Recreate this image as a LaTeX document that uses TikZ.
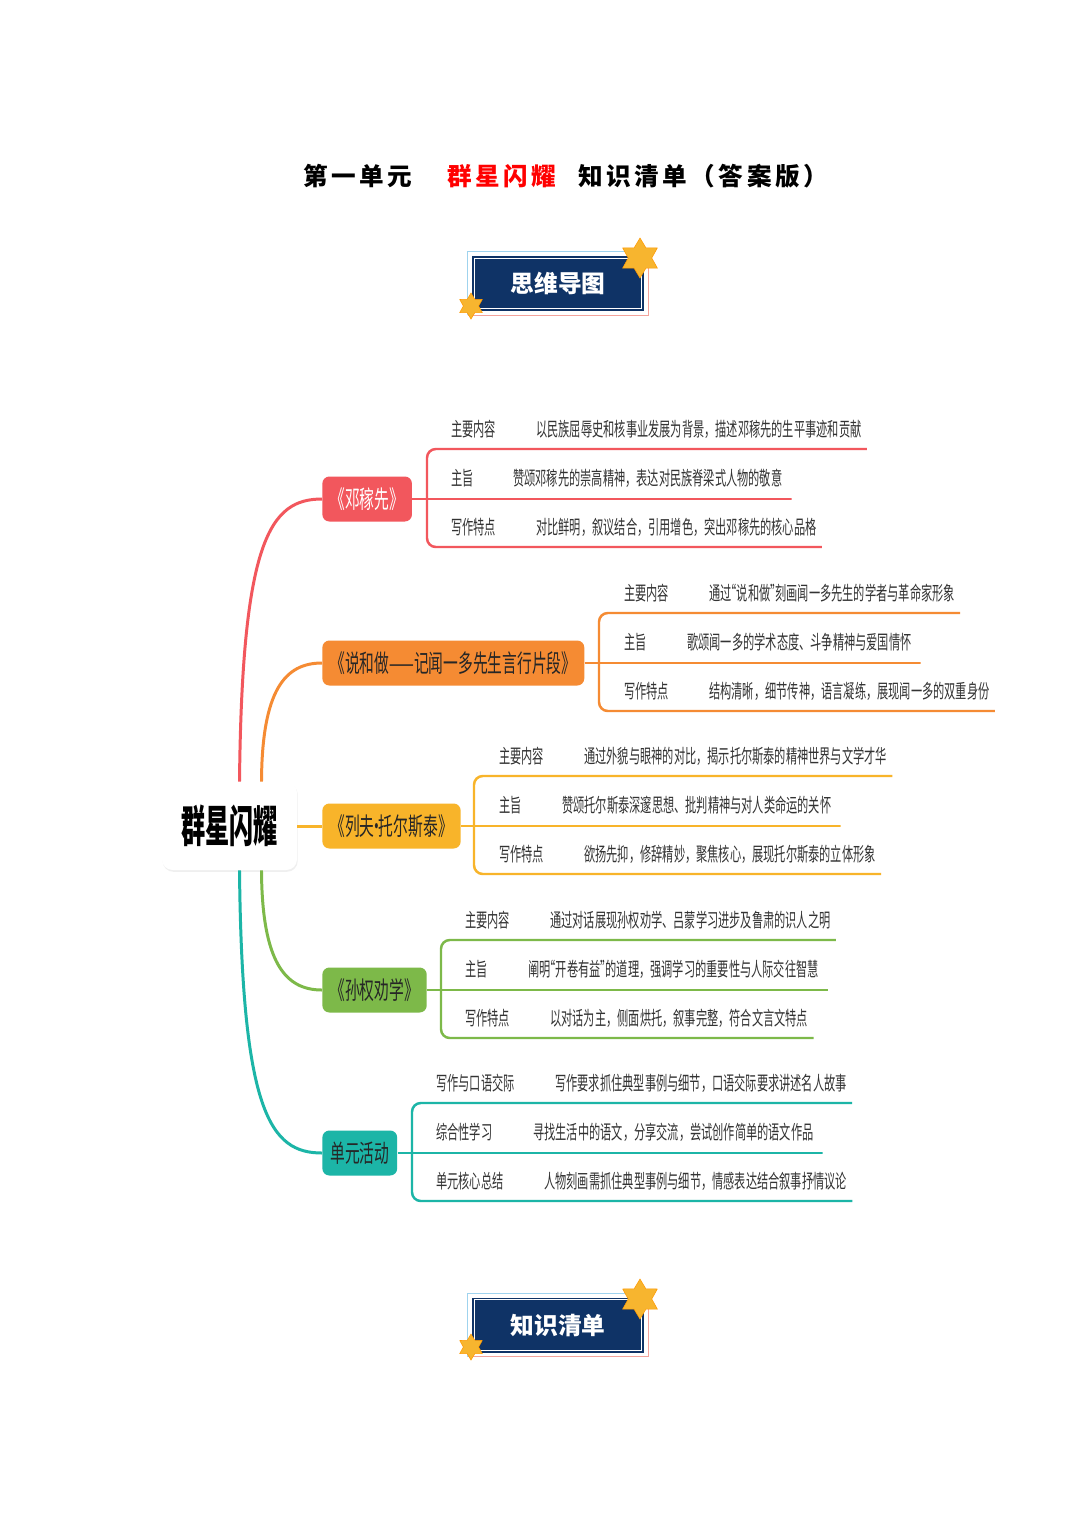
\documentclass[tikz,border=0pt]{standalone}
\usepackage{fontspec}
\usepackage{graphicx}
\setmainfont{Noto Sans CJK SC}
\usetikzlibrary{shapes.geometric,shadows}

\definecolor{cred}{HTML}{F2575D}
\definecolor{corange}{HTML}{F58B33}
\definecolor{cyellow}{HTML}{F8B42A}
\definecolor{cgreen}{HTML}{7DB949}
\definecolor{cteal}{HTML}{1CB5A7}
\definecolor{navy}{HTML}{0F3366}
\definecolor{leafgray}{HTML}{333333}
\definecolor{starfill}{HTML}{F7B52F}
\definecolor{framebl}{HTML}{9FD3EE}
\definecolor{framepk}{HTML}{F3A39B}

\newcommand{\leaftxt}[1]{\scalebox{0.58}[1]{#1}}
\newcommand{\brtxt}[1]{\scalebox{0.6}[1]{#1}}
\newcommand{\tk}{\kern2pt}
\newcommand{\openq}{\makebox[0.45em][r]{“}}
\newcommand{\closeq}{\makebox[0.45em][l]{”}}

\begin{document}
\begin{tikzpicture}[x=0.02cm,y=-0.02cm,
  leaf/.style={anchor=west,inner sep=0pt,text=leafgray,font=\fontsize{11}{12}\selectfont},
  branch/.style={anchor=west,rounded corners=4pt,inner xsep=4.5pt,inner ysep=0pt,minimum height=0.9cm,text=black!85,font=\fontsize{14}{16}\selectfont},
  conn/.style={line width=1.7pt},
  uline/.style={line width=1.4pt,rounded corners=5pt},
  badge/.style={fill=navy,minimum width=3.44cm,minimum height=1.1cm,text=white,font=\bfseries\fontsize{13.5}{15}\selectfont},
  ttl/.style={anchor=west,inner sep=0pt,font=\bfseries\fontsize{14}{16}\selectfont},
  gold/.style={star,star points=6,star point ratio=1.7,fill=starfill,draw=orange!80!yellow,line width=0.3pt,inner sep=0pt}
]
  \fill[white] (0,0) rectangle (1080,1526);
  \useasboundingbox (0,0) rectangle (1080,1526);

  % title
  \node[ttl] (ttl1) at (303,176) {第\tk 一\tk 单\tk 元};
  \node[ttl,text=red] (ttl2) at (447,176) {群\tk 星\tk 闪\tk 耀};
  \node[ttl] (ttl3) at (578,176) {知\tk 识\tk 清\tk 单\tk （\tk 答\tk 案\tk 版\tk ）};

  % badge 1
  \node[badge] (mm) at (558,283.5) {思维导图};
  \draw[white,line width=0.7pt] ([shift={(2.5,2.5)}]mm.north west) rectangle ([shift={(-2.5,-2.5)}]mm.south east);
  \draw[framebl,line width=0.6pt] ([shift={(-4,4)}]mm.south west) -- ([shift={(-4,-4)}]mm.north west) -- ([shift={(4,-4)}]mm.north east);
  \draw[framepk,line width=0.6pt] ([shift={(4,-4)}]mm.north east) -- ([shift={(4,4)}]mm.south east) -- ([shift={(-4,4)}]mm.south west);
  \node[gold,minimum size=0.8cm] (st1) at (640,258) {};
  \node[gold,minimum size=0.52cm] (st2) at (471,306) {};

  % centre
  \node[fill=white,rounded corners=6pt,minimum width=2.7cm,minimum height=1.76cm,
        drop shadow={opacity=0.12,shadow xshift=0.4pt,shadow yshift=-1pt}] (ctr) at (229.5,826)
        {\scalebox{0.55}[1]{\bfseries\fontsize{25}{28}\selectfont 群星闪耀}};

  % branches
  \node[branch,fill=cred,text=white] (b1) at (322,499) {\brtxt{《邓稼先》}};
  \node[branch,fill=corange] (b2) at (322,663) {\brtxt{《说和做——记闻一多先生言行片段》}};
  \node[branch,fill=cyellow] (b3) at (322,826) {\brtxt{《列夫\makebox[0.3em]{·}托尔斯泰》}};
  \node[branch,fill=cgreen] (b4) at (322,990) {\brtxt{《孙权劝学》}};
  \node[branch,fill=cteal] (b5) at (322,1153) {\brtxt{单元活动}};

  \draw[conn,cred] ([xshift=0.2cm]ctr.north) .. controls (242,540) and (270,499) .. (b1.west);
  \draw[conn,corange] ([xshift=0.64cm]ctr.north) .. controls (262,690) and (285,663) .. (b2.west);
  \draw[conn,cyellow] (ctr.east) -- (b3.west);
  \draw[conn,cgreen] ([xshift=0.64cm]ctr.south) .. controls (262,962) and (285,990) .. (b4.west);
  \draw[conn,cteal] ([xshift=0.2cm]ctr.south) .. controls (242,1112) and (270,1153) .. (b5.west);

  % 邓稼先
  \node[leaf] (b1k1) at (451,429) {\leaftxt{主要内容}};
  \node[leaf] (b1v1) at (536,429) {\leaftxt{以民族屈辱史和核事业发展为背景，描述邓稼先的生平事迹和贡献}};
  \node[leaf] (b1k2) at (451,478) {\leaftxt{主旨}};
  \node[leaf] (b1v2) at (513,478) {\leaftxt{赞颂邓稼先的崇高精神，表达对民族脊梁式人物的敬意}};
  \node[leaf] (b1k3) at (451,527) {\leaftxt{写作特点}};
  \node[leaf] (b1v3) at (536,527) {\leaftxt{对比鲜明，叙议结合，引用增色，突出邓稼先的核心品格}};
  \draw[uline,cred] ([shift={(5,20)}]b1v1.east) -- (427,449) -- (427,547) -- ([shift={(5,20)}]b1v3.east);
  \draw[uline,cred] (b1.east) -- (b1.east -| b1v2.east) -- ++(5,0);

  % 说和做
  \node[leaf] (b2k1) at (624,593) {\leaftxt{主要内容}};
  \node[leaf] (b2v1) at (709,593) {\leaftxt{通过\openq 说和做\closeq 刻画闻一多先生的学者与革命家形象}};
  \node[leaf] (b2k2) at (624,642) {\leaftxt{主旨}};
  \node[leaf] (b2v2) at (687,642) {\leaftxt{歌颂闻一多的学术态度、斗争精神与爱国情怀}};
  \node[leaf] (b2k3) at (624,691) {\leaftxt{写作特点}};
  \node[leaf] (b2v3) at (709,691) {\leaftxt{结构清晰，细节传神，语言凝练，展现闻一多的双重身份}};
  \draw[uline,corange] ([shift={(5,20)}]b2v1.east) -- (599,613) -- (599,711) -- ([shift={(5,20)}]b2v3.east);
  \draw[uline,corange] (b2.east) -- (b2.east -| b2v2.east) -- ++(5,0);

  % 列夫·托尔斯泰
  \node[leaf] (b3k1) at (499,756) {\leaftxt{主要内容}};
  \node[leaf] (b3v1) at (584,756) {\leaftxt{通过外貌与眼神的对比，揭示托尔斯泰的精神世界与文学才华}};
  \node[leaf] (b3k2) at (499,805) {\leaftxt{主旨}};
  \node[leaf] (b3v2) at (562,805) {\leaftxt{赞颂托尔斯泰深邃思想、批判精神与对人类命运的关怀}};
  \node[leaf] (b3k3) at (499,854) {\leaftxt{写作特点}};
  \node[leaf] (b3v3) at (584,854) {\leaftxt{欲扬先抑，修辞精妙，聚焦核心，展现托尔斯泰的立体形象}};
  \draw[uline,cyellow] ([shift={(5,20)}]b3v1.east) -- (474,776) -- (474,874) -- ([shift={(5,20)}]b3v3.east);
  \draw[uline,cyellow] (b3.east) -- (b3.east -| b3v2.east) -- ++(5,0);

  % 孙权劝学
  \node[leaf] (b4k1) at (465,920) {\leaftxt{主要内容}};
  \node[leaf] (b4v1) at (550,920) {\leaftxt{通过对话展现孙权劝学、吕蒙学习进步及鲁肃的识人之明}};
  \node[leaf] (b4k2) at (465,969) {\leaftxt{主旨}};
  \node[leaf] (b4v2) at (528,969) {\leaftxt{阐明\openq 开卷有益\closeq 的道理，强调学习的重要性与人际交往智慧}};
  \node[leaf] (b4k3) at (465,1018) {\leaftxt{写作特点}};
  \node[leaf] (b4v3) at (550,1018) {\leaftxt{以对话为主，侧面烘托，叙事完整，符合文言文特点}};
  \draw[uline,cgreen] ([shift={(5,20)}]b4v1.east) -- (441,940) -- (441,1038) -- ([shift={(5,20)}]b4v3.east);
  \draw[uline,cgreen] (b4.east) -- (b4.east -| b4v2.east) -- ++(5,0);

  % 单元活动
  \node[leaf] (b5k1) at (436,1083) {\leaftxt{写作与口语交际}};
  \node[leaf] (b5v1) at (555,1083) {\leaftxt{写作要求抓住典型事例与细节，口语交际要求讲述名人故事}};
  \node[leaf] (b5k2) at (436,1132) {\leaftxt{综合性学习}};
  \node[leaf] (b5v2) at (533,1132) {\leaftxt{寻找生活中的语文，分享交流，尝试创作简单的语文作品}};
  \node[leaf] (b5k3) at (436,1181) {\leaftxt{单元核心总结}};
  \node[leaf] (b5v3) at (544,1181) {\leaftxt{人物刻画需抓住典型事例与细节，情感表达结合叙事抒情议论}};
  \draw[uline,cteal] ([shift={(5,20)}]b5v1.east) -- (412,1103) -- (412,1201) -- ([shift={(5,20)}]b5v3.east);
  \draw[uline,cteal] (b5.east) -- (b5.east -| b5v2.east) -- ++(5,0);

  % badge 2
  \node[badge] (kl) at (558,1325) {知识清单};
  \draw[white,line width=0.7pt] ([shift={(2.5,2.5)}]kl.north west) rectangle ([shift={(-2.5,-2.5)}]kl.south east);
  \draw[framebl,line width=0.6pt] ([shift={(-4,4)}]kl.south west) -- ([shift={(-4,-4)}]kl.north west) -- ([shift={(4,-4)}]kl.north east);
  \draw[framepk,line width=0.6pt] ([shift={(4,-4)}]kl.north east) -- ([shift={(4,4)}]kl.south east) -- ([shift={(-4,4)}]kl.south west);
  \node[gold,minimum size=0.8cm] (st3) at (640,1299) {};
  \node[gold,minimum size=0.52cm] (st4) at (471,1347) {};
\end{tikzpicture}
\end{document}
